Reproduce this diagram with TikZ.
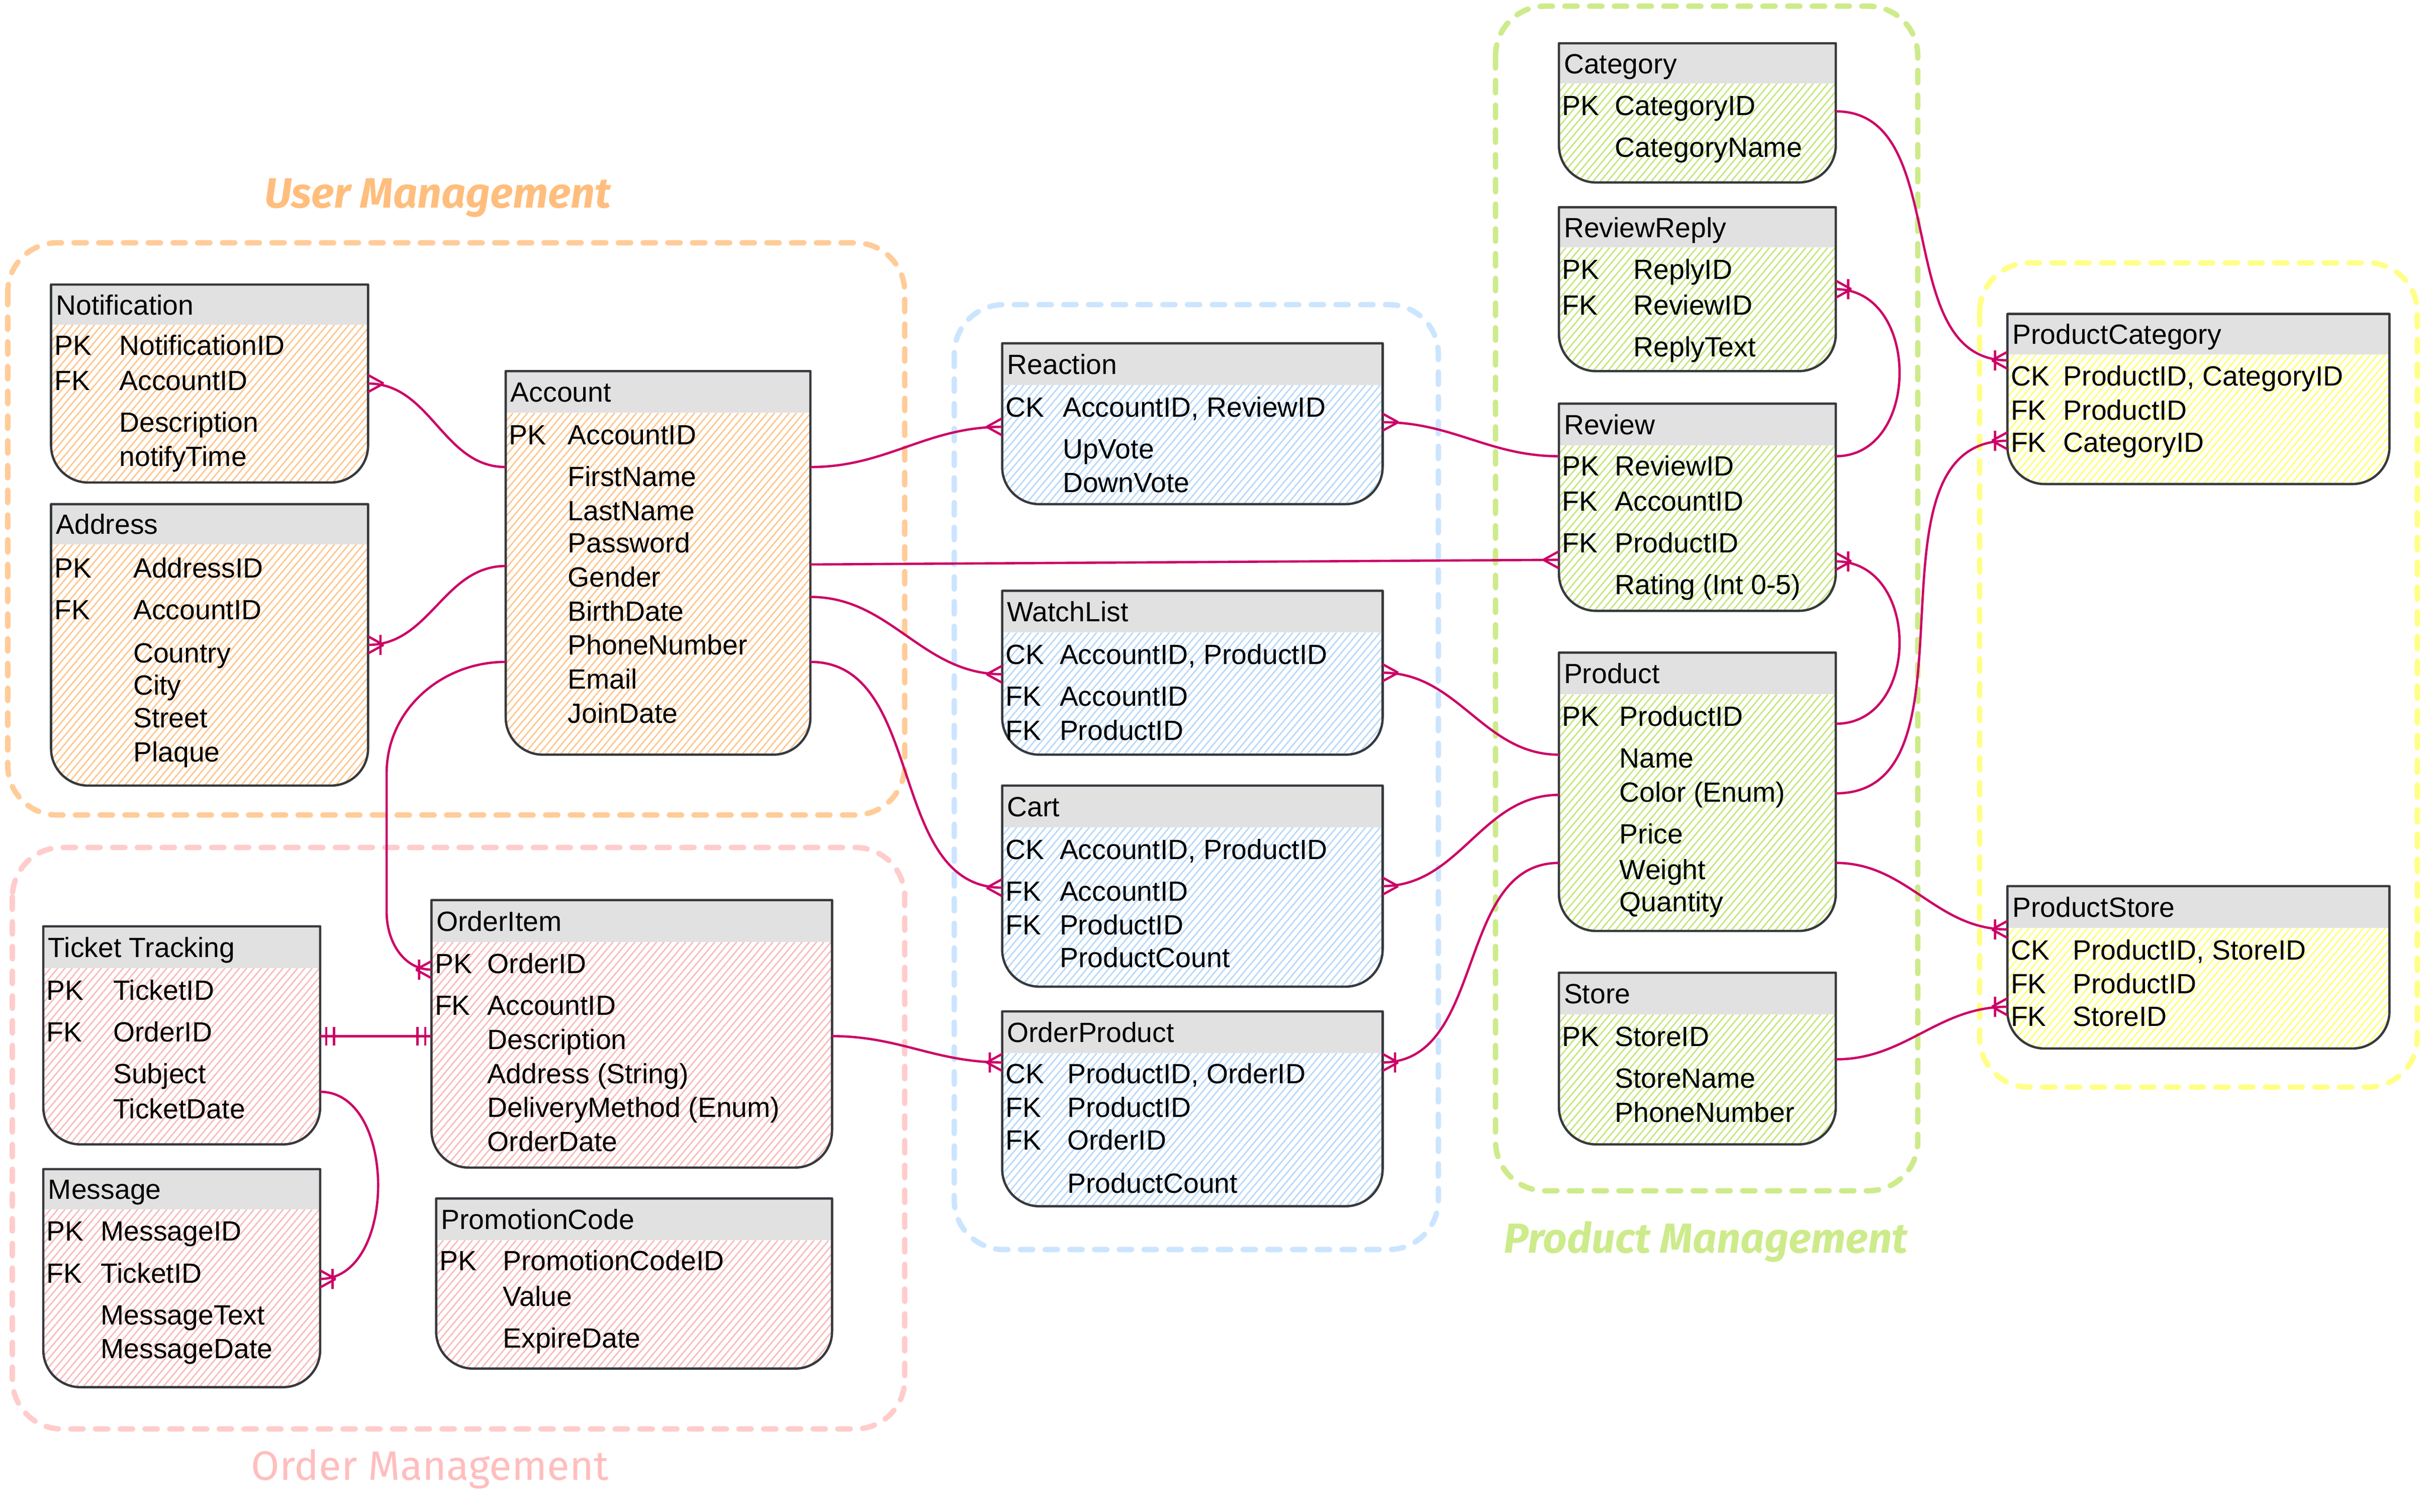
\documentclass[tikz,border=0pt]{standalone}
\usepackage{fontspec}
\setmainfont{Liberation Sans}
\newfontfamily\ttlfont{Fira Sans}
\definecolor{relc}{RGB}{204,0,102}
\definecolor{tbldark}{RGB}{54,57,61}
\definecolor{hdrgray}{RGB}{225,225,225}
\definecolor{grpO}{RGB}{255,204,153}
\definecolor{grpP}{RGB}{255,204,204}
\definecolor{grpB}{RGB}{204,229,255}
\definecolor{grpG}{RGB}{205,235,139}
\definecolor{grpY}{RGB}{255,255,136}
\definecolor{hatO}{RGB}{255,196,138}
\definecolor{hatP}{RGB}{250,185,185}
\definecolor{hatB}{RGB}{182,216,250}
\definecolor{hatG}{RGB}{196,230,120}
\definecolor{hatY}{RGB}{255,255,110}
\definecolor{ttlO}{RGB}{255,190,125}
\definecolor{ttlP}{RGB}{255,190,190}
\definecolor{ttlG}{RGB}{205,235,139}
\tikzset{
 tblbox/.style={inner sep=0pt, outer sep=0pt, draw=none},
 hdrfill/.style={fill=hdrgray},
 hatchline/.style={draw=#1, line width=0.85pt},
 tblline/.style={draw=tbldark, line width=1.5pt, line join=round},
 rowtxt/.style={anchor=base west, inner sep=0pt, font=\fontsize{18}{22}\selectfont},
 relline/.style={draw=relc, line width=1.5pt},
 grp/.style={line width=3.5pt, dash pattern=on 8pt off 8pt, line cap=round, rounded corners=32pt},
 grpttl/.style={inner sep=0pt, font=\ttlfont\fontsize{24}{28}\selectfont},
 crow/.pic={\draw[relline] (-10,0) -- (0,-5.5) (-10,0) -- (0,5.5);},
 crowbar/.pic={\draw[relline] (-10,0) -- (0,-5.5) (-10,0) -- (0,5.5) (-8,-6.5) -- (-8,6.5);},
 onebars/.pic={\draw[relline] (-4,-6) -- (-4,6) (-9,-6) -- (-9,6);},
}
% #1 name, #2 x1, #3 y1, #4 x2, #5 header bottom, #6 y2, #7 hatch colour, #8 title
\newcommand\ertbl[8]{%
 \pgfmathsetmacro\tblw{#4-#2}\pgfmathsetmacro\tblh{#6-#3}%
 \pgfmathsetmacro\bh{#6-#5}\pgfmathsetmacro\bdx{\bh/1.19}%
 \pgfmathsetmacro\hs{#2-\bdx}\pgfmathsetmacro\hsn{\hs+4.7}%
 \node[tblbox, minimum width=\tblw pt, minimum height=\tblh pt, anchor=north west] (#1) at (#2,#3) {};
 \begin{scope}
 \clip (#2,#5) -- (#4,#5) -- (#4,#6-24) .. controls (#4,#6-10.75) and (#4-10.75,#6) .. (#4-24,#6) -- (#2+24,#6) .. controls (#2+10.75,#6) and (#2,#6-10.75) .. (#2,#6-24) -- cycle;
 \foreach \xs in {\hs,\hsn,...,#4} {\draw[hatchline=#7] (\xs,#6) -- ++(\bdx,-\bh);}
 \end{scope}
 \fill[hdrfill] (#2,#3) rectangle (#4,#5);
 \draw[tblline] (#2,#3) -- (#4,#3) -- (#4,#6-24) .. controls (#4,#6-10.75) and (#4-10.75,#6) .. (#4-24,#6) -- (#2+24,#6) .. controls (#2+10.75,#6) and (#2,#6-10.75) .. (#2,#6-24) -- cycle;
 \node[rowtxt] (#1-t) at ({#2+3},{(#3+#5)/2+6.5}) {#8};
}
% #1 name, #2 x1, #3 field x, #4 y centre, #5 key, #6 field
\newcommand\ertrow[6]{%
 \pgfmathsetmacro\keyw{#3-#2-2}%
 \node[rowtxt] (#1) at ({#2+2},{#4+6.5}) {\makebox[\keyw pt][l]{#5}#6};
}
\begin{document}
\begin{tikzpicture}[x=1pt,y=-1pt]
\useasboundingbox (0,0) rectangle (1568,977.7);
% groups
\draw[grp, draw=grpO] (5,157) rectangle (585,527);
\draw[grp, draw=grpP] (8,548) rectangle (585,924);
\draw[grp, draw=grpB] (617,197) rectangle (930,808);
\draw[grp, draw=grpG] (967,4) rectangle (1240,770);
\draw[grp, draw=grpY] (1280,170) rectangle (1563,703);
\node[grpttl, text=ttlO] (ttlU) at (283,128) {\resizebox{224pt}{!}{\bfseries\itshape User Management}};
\node[grpttl, text=ttlP] (ttlO) at (278,950) {\resizebox{231pt}{!}{Order Management}};
\node[grpttl, text=ttlG] (ttlPM) at (1103,803) {\resizebox{261pt}{!}{\bfseries\itshape Product Management}};
% User Management
\ertbl{notif}{33}{184}{238}{210}{312}{hatO}{Notification}
\ertrow{notif1}{33}{77}{223}{PK}{NotificationID}
\ertrow{notif2}{33}{77}{246}{FK}{AccountID}
\ertrow{notif3}{33}{77}{273}{}{Description}
\ertrow{notif4}{33}{77}{295}{}{notifyTime}
\ertbl{addr}{33}{326}{238}{352}{508}{hatO}{Address}
\ertrow{addr1}{33}{86}{367}{PK}{AddressID}
\ertrow{addr2}{33}{86}{394}{FK}{AccountID}
\ertrow{addr3}{33}{86}{422}{}{Country}
\ertrow{addr4}{33}{86}{443}{}{City}
\ertrow{addr5}{33}{86}{464}{}{Street}
\ertrow{addr6}{33}{86}{486}{}{Plaque}
\ertbl{acc}{327}{240}{524}{267}{488}{hatO}{Account}
\ertrow{acc1}{327}{367}{281}{PK}{AccountID}
\ertrow{acc2}{327}{367}{308}{}{FirstName}
\ertrow{acc3}{327}{367}{330}{}{LastName}
\ertrow{acc4}{327}{367}{351}{}{Password}
\ertrow{acc5}{327}{367}{373}{}{Gender}
\ertrow{acc6}{327}{367}{395}{}{BirthDate}
\ertrow{acc7}{327}{367}{417}{}{PhoneNumber}
\ertrow{acc8}{327}{367}{439}{}{Email}
\ertrow{acc9}{327}{367}{461}{}{JoinDate}
% Order Management
\ertbl{ticket}{28}{599}{207}{626}{740}{hatP}{Ticket Tracking}
\ertrow{ticket1}{28}{73}{640}{PK}{TicketID}
\ertrow{ticket2}{28}{73}{667}{FK}{OrderID}
\ertrow{ticket3}{28}{73}{694}{}{Subject}
\ertrow{ticket4}{28}{73}{717}{}{TicketDate}
\ertbl{msg}{28}{756}{207}{782}{897}{hatP}{Message}
\ertrow{msg1}{28}{65}{796}{PK}{MessageID}
\ertrow{msg2}{28}{65}{823}{FK}{TicketID}
\ertrow{msg3}{28}{65}{850}{}{MessageText}
\ertrow{msg4}{28}{65}{872}{}{MessageDate}
\ertbl{oitem}{279}{582}{538}{609}{755}{hatP}{OrderItem}
\ertrow{oitem1}{279}{315}{623}{PK}{OrderID}
\ertrow{oitem2}{279}{315}{650}{FK}{AccountID}
\ertrow{oitem3}{279}{315}{672}{}{Description}
\ertrow{oitem4}{279}{315}{694}{}{Address (String)}
\ertrow{oitem5}{279}{315}{716}{}{DeliveryMethod (Enum)}
\ertrow{oitem6}{279}{315}{738}{}{OrderDate}
\ertbl{promo}{282}{775}{538}{802}{885}{hatP}{PromotionCode}
\ertrow{promo1}{282}{325}{815}{PK}{PromotionCodeID}
\ertrow{promo2}{282}{325}{838}{}{Value}
\ertrow{promo3}{282}{325}{865}{}{ExpireDate}
% middle
\ertbl{react}{648}{222}{894}{249}{326}{hatB}{Reaction}
\ertrow{react1}{648}{687}{263}{CK}{AccountID, ReviewID}
\ertrow{react2}{648}{687}{290}{}{UpVote}
\ertrow{react3}{648}{687}{312}{}{DownVote}
\ertbl{watch}{648}{382}{894}{409}{488}{hatB}{WatchList}
\ertrow{watch1}{648}{685}{423}{CK}{AccountID, ProductID}
\ertrow{watch2}{648}{685}{450}{FK}{AccountID}
\ertrow{watch3}{648}{685}{472}{FK}{ProductID}
\ertbl{cart}{648}{508}{894}{535}{638}{hatB}{Cart}
\ertrow{cart1}{648}{685}{549}{CK}{AccountID, ProductID}
\ertrow{cart2}{648}{685}{576}{FK}{AccountID}
\ertrow{cart3}{648}{685}{598}{FK}{ProductID}
\ertrow{cart4}{648}{685}{619}{}{ProductCount}
\ertbl{oprod}{648}{654}{894}{681}{780}{hatB}{OrderProduct}
\ertrow{oprod1}{648}{690}{694}{CK}{ProductID, OrderID}
\ertrow{oprod2}{648}{690}{716}{FK}{ProductID}
\ertrow{oprod3}{648}{690}{737}{FK}{OrderID}
\ertrow{oprod4}{648}{690}{765}{}{ProductCount}
% Product Management
\ertbl{cat}{1008}{28}{1187}{54}{118}{hatG}{Category}
\ertrow{cat1}{1008}{1044}{68}{PK}{CategoryID}
\ertrow{cat2}{1008}{1044}{95}{}{CategoryName}
\ertbl{rreply}{1008}{134}{1187}{160}{240}{hatG}{ReviewReply}
\ertrow{rreply1}{1008}{1056}{174}{PK}{ReplyID}
\ertrow{rreply2}{1008}{1056}{197}{FK}{ReviewID}
\ertrow{rreply3}{1008}{1056}{224}{}{ReplyText}
\ertbl{review}{1008}{261}{1187}{288}{395}{hatG}{Review}
\ertrow{review1}{1008}{1044}{301}{PK}{ReviewID}
\ertrow{review2}{1008}{1044}{324}{FK}{AccountID}
\ertrow{review3}{1008}{1044}{351}{FK}{ProductID}
\ertrow{review4}{1008}{1044}{378}{}{Rating (Int 0-5)}
\ertbl{prod}{1008}{422}{1187}{449}{602}{hatG}{Product}
\ertrow{prod1}{1008}{1047}{463}{PK}{ProductID}
\ertrow{prod2}{1008}{1047}{490}{}{Name}
\ertrow{prod3}{1008}{1047}{512}{}{Color (Enum)}
\ertrow{prod4}{1008}{1047}{539}{}{Price}
\ertrow{prod5}{1008}{1047}{562}{}{Weight}
\ertrow{prod6}{1008}{1047}{583}{}{Quantity}
\ertbl{store}{1008}{629}{1187}{656}{740}{hatG}{Store}
\ertrow{store1}{1008}{1044}{670}{PK}{StoreID}
\ertrow{store2}{1008}{1044}{697}{}{StoreName}
\ertrow{store3}{1008}{1044}{719}{}{PhoneNumber}
% yellow
\ertbl{pcat}{1298}{203}{1545}{229}{313}{hatY}{ProductCategory}
\ertrow{pcat1}{1298}{1334}{243}{CK}{ProductID, CategoryID}
\ertrow{pcat2}{1298}{1334}{265}{FK}{ProductID}
\ertrow{pcat3}{1298}{1334}{286}{FK}{CategoryID}
\ertbl{pstore}{1298}{573}{1545}{600}{678}{hatY}{ProductStore}
\ertrow{pstore1}{1298}{1340}{614}{CK}{ProductID, StoreID}
\ertrow{pstore2}{1298}{1340}{636}{FK}{ProductID}
\ertrow{pstore3}{1298}{1340}{657}{FK}{StoreID}
% relationships
\draw[relline] (notif.east |- 0,248) to[out=0,in=180] (acc.west |- 0,302);
\pic[xscale=-1] at (notif.east |- 0,248) {crow};
\draw[relline] (addr.east |- 0,417) to[out=0,in=180] (acc.west |- 0,366);
\pic[xscale=-1] at (addr.east |- 0,417) {crowbar};
\draw[relline] (acc.west |- 0,428) to[out=180,in=90] (250,500) -- (250,590) to[out=270,in=180] (oitem.west |- 0,627);
\pic at (oitem.west |- 0,627) {crowbar};
\draw[relline] (acc.east |- 0,302) to[out=0,in=180] (react.west |- 0,276);
\pic at (react.west |- 0,276) {crow};
\draw[relline] (acc.east |- 0,365) -- (review.west |- 0,362);
\pic at (review.west |- 0,362) {crow};
\draw[relline] (acc.east |- 0,386) to[out=0,in=180] (watch.west |- 0,436);
\pic at (watch.west |- 0,436) {crow};
\draw[relline] (acc.east |- 0,428) to[out=0,in=180] (cart.west |- 0,574);
\pic at (cart.west |- 0,574) {crow};
\draw[relline] (react.east |- 0,273) to[out=0,in=180] (review.west |- 0,295);
\pic[xscale=-1] at (react.east |- 0,273) {crow};
\draw[relline] (watch.east |- 0,435) to[out=0,in=180] (prod.west |- 0,488);
\pic[xscale=-1] at (watch.east |- 0,435) {crow};
\draw[relline] (cart.east |- 0,573) to[out=0,in=180] (prod.west |- 0,514);
\pic[xscale=-1] at (cart.east |- 0,573) {crow};
\draw[relline] (oprod.east |- 0,687) to[out=0,in=180] (prod.west |- 0,558);
\pic[xscale=-1] at (oprod.east |- 0,687) {crowbar};
\draw[relline] (oitem.east |- 0,670) to[out=0,in=180] (oprod.west |- 0,687);
\pic at (oprod.west |- 0,687) {crowbar};
\draw[relline] (ticket.east |- 0,670) -- (oitem.west |- 0,670);
\pic[xscale=-1] at (ticket.east |- 0,670) {onebars};
\pic at (oitem.west |- 0,670) {onebars};
\draw[relline] (ticket.east |- 0,706) to[out=0,in=0,distance=50] (msg.east |- 0,827);
\pic[xscale=-1] at (msg.east |- 0,827) {crowbar};
\draw[relline] (cat.east |- 0,72) to[out=0,in=180] (pcat.west |- 0,233);
\pic at (pcat.west |- 0,233) {crowbar};
\draw[relline] (review.east |- 0,295) to[out=0,in=0,distance=55] (rreply.east |- 0,187);
\pic[xscale=-1] at (rreply.east |- 0,187) {crowbar};
\draw[relline] (prod.east |- 0,468) to[out=0,in=0,distance=55] (review.east |- 0,363);
\pic[xscale=-1] at (review.east |- 0,363) {crowbar};
\draw[relline] (prod.east |- 0,513) to[out=0,in=180] (pcat.west |- 0,285);
\pic at (pcat.west |- 0,285) {crowbar};
\draw[relline] (prod.east |- 0,558) to[out=0,in=180] (pstore.west |- 0,601);
\pic at (pstore.west |- 0,601) {crowbar};
\draw[relline] (store.east |- 0,685) to[out=0,in=180] (pstore.west |- 0,651);
\pic at (pstore.west |- 0,651) {crowbar};
\end{tikzpicture}
\end{document}
